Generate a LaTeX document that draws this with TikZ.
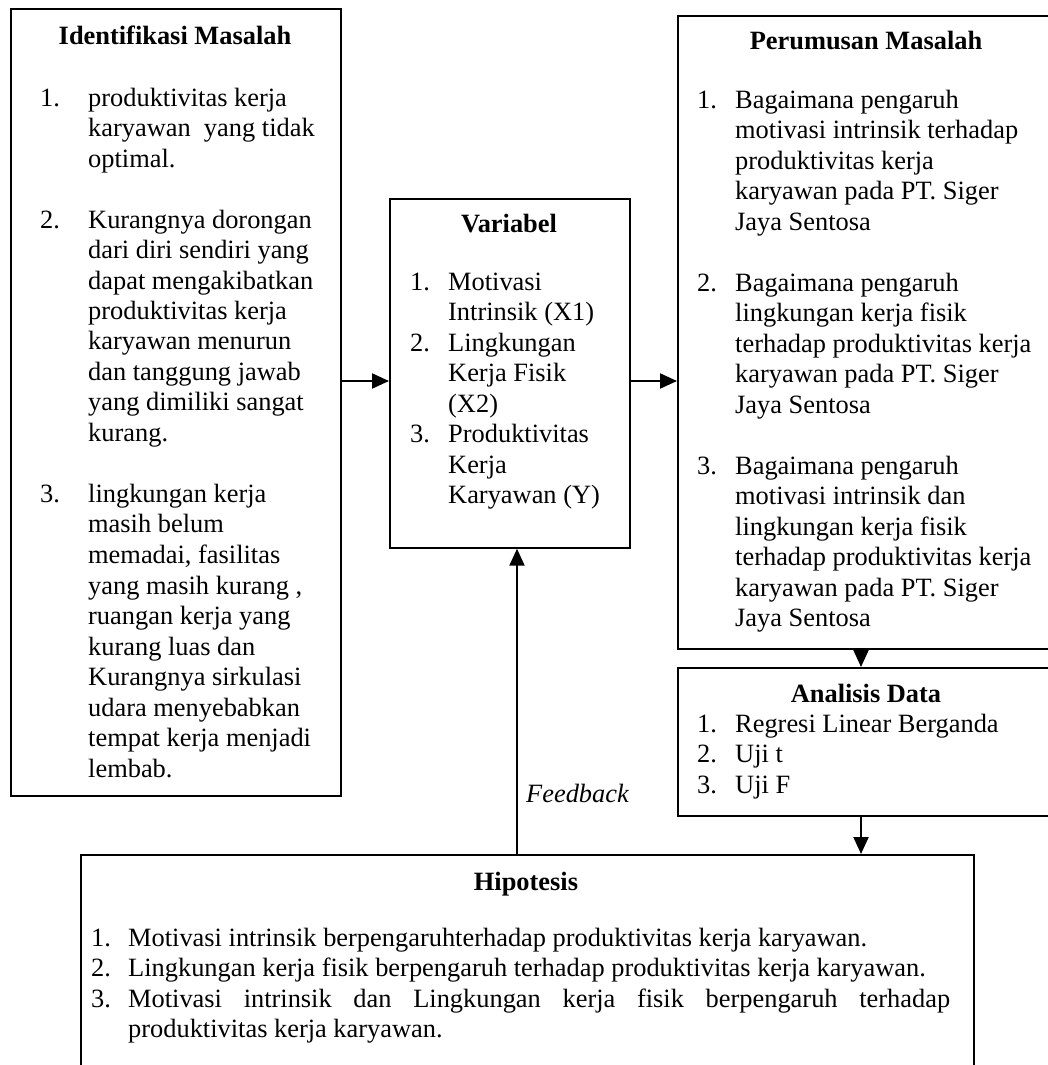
\documentclass[tikz,border=0pt]{standalone}
\usepackage{fontspec}
\setmainfont{Liberation Serif}
\usetikzlibrary{arrows.meta}
\newcommand{\txtfont}{\fontsize{26.4pt}{30.5pt}\selectfont}
\begin{document}
\begin{tikzpicture}[x=1pt,y=-1pt,
  box/.style={draw, line width=1.7pt, inner sep=0pt, anchor=north west},
  head/.style={font=\txtfont\bfseries, anchor=base, inner sep=0pt},
  lst/.style={font=\txtfont, anchor=base west, inner sep=0pt},
  arr/.style={line width=2.1pt, -{Triangle[length=17pt,width=15pt]}}]
\useasboundingbox (0,0) rectangle (1048,1065);
\clip (0,0) rectangle (1048,1065);
\fill[white] (0,0) rectangle (1048,1065);

% boxes
\node[box, minimum width=330pt, minimum height=787pt] (idbox) at (10,8) {};
\node[box, minimum width=240pt, minimum height=349pt] (varbox) at (389,198) {};
\node[box, minimum width=380pt, minimum height=633pt] (perbox) at (677,15) {};
\node[box, minimum width=380pt, minimum height=148pt] (anbox) at (677,667) {};
\node[box, minimum width=893pt, minimum height=260pt] (hipbox) at (80,854) {};

% Identifikasi Masalah
\node[head] (idhead) at (175,45) {Identifikasi Masalah};
\node[lst] (idlist) at (40,106) {\begin{tabular}[t]{@{}p{48pt}@{}l@{}}
1. & produktivitas kerja\\
 & karyawan\ \ yang tidak\\
 & optimal.\\
 & \\
2. & Kurangnya dorongan\\
 & dari diri sendiri yang\\
 & dapat mengakibatkan\\
 & produktivitas kerja\\
 & karyawan menurun\\
 & dan tanggung jawab\\
 & yang dimiliki sangat\\
 & kurang.\\
 & \\
3. & lingkungan kerja\\
 & masih belum\\
 & memadai, fasilitas\\
 & yang masih kurang ,\\
 & ruangan kerja yang\\
 & kurang luas dan\\
 & Kurangnya sirkulasi\\
 & udara menyebabkan\\
 & tempat kerja menjadi\\
 & lembab.
\end{tabular}};

% Variabel
\node[head] (varhead) at (509,232) {Variabel};
\node[lst] (varlist) at (410,290) {\begin{tabular}[t]{@{}p{38pt}@{}l@{}}
1. & Motivasi\\
 & Intrinsik (X1)\\
2. & Lingkungan\\
 & Kerja Fisik\\
 & (X2)\\
3. & Produktivitas\\
 & Kerja\\
 & Karyawan (Y)
\end{tabular}};

% Perumusan Masalah
\node[head] (perhead) at (866,50) {Perumusan Masalah};
\node[lst] (perlist) at (697,108) {\begin{tabular}[t]{@{}p{38pt}@{}l@{}}
1. & Bagaimana pengaruh\\
 & motivasi intrinsik terhadap\\
 & produktivitas kerja\\
 & karyawan pada PT. Siger\\
 & Jaya Sentosa\\
 & \\
2. & Bagaimana pengaruh\\
 & lingkungan kerja fisik\\
 & terhadap produktivitas kerja\\
 & karyawan pada PT. Siger\\
 & Jaya Sentosa\\
 & \\
3. & Bagaimana pengaruh\\
 & motivasi intrinsik dan\\
 & lingkungan kerja fisik\\
 & terhadap produktivitas kerja\\
 & karyawan pada PT. Siger\\
 & Jaya Sentosa
\end{tabular}};

% Analisis Data
\node[head] (anhead) at (866,702) {Analisis Data};
\node[lst] (anlist) at (697,732) {\begin{tabular}[t]{@{}p{38pt}@{}l@{}}
1. & Regresi Linear Berganda\\
2. & Uji t\\
3. & Uji F
\end{tabular}};

% Hipotesis
\node[head] (hiphead) at (526,890) {Hipotesis};
\node[lst] (hiplist) at (91,946) {\begin{tabular}[t]{@{}p{37pt}@{}l@{}}
1. & Motivasi intrinsik berpengaruhterhadap produktivitas kerja karyawan.\\
2. & Lingkungan kerja fisik berpengaruh terhadap produktivitas kerja karyawan.\\
3. & \makebox[822pt][s]{Motivasi intrinsik dan Lingkungan kerja fisik berpengaruh terhadap}\\
 & produktivitas kerja karyawan.
\end{tabular}};

% Feedback label
\node[lst, font=\txtfont\itshape] (fb) at (526,802) {Feedback};

% connectors
\coordinate (ay) at (0,381);
\coordinate (ax) at (861,0);
\coordinate (fx) at (517,0);
\draw[arr] (idbox.east |- ay) -- (varbox.west |- ay);
\draw[arr] (varbox.east |- ay) -- (perbox.west |- ay);
\draw[arr] (perbox.south -| ax) -- (anbox.north -| ax);
\draw[arr] (anbox.south -| ax) -- (hipbox.north -| ax);
\draw[arr] (hipbox.north -| fx) -- (varbox.south -| fx);
\end{tikzpicture}
\end{document}
